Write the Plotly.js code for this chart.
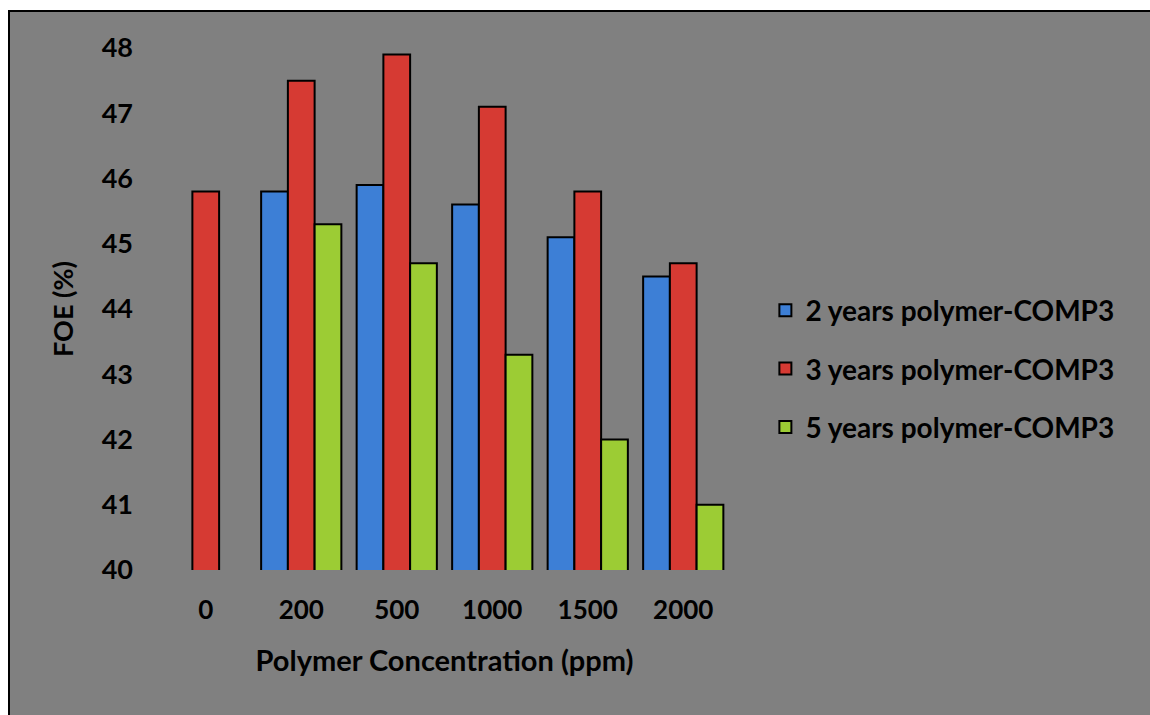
<!DOCTYPE html>
<html>
<head>
<meta charset="utf-8">
<script src="https://cdn.plot.ly/plotly-3.0.1.min.js"></script>
<style>
  html, body { margin: 0; padding: 0; background: #ffffff; width: 1150px; height: 715px; overflow: hidden; }
  #chart { position: absolute; left: 8px; top: 10px; width: 1140px; height: 703px; border: 2px solid #000; background: #808080; }
</style>
</head>
<body>
<div id="chart"></div>
<script>
const categories = ['0', '200', '500', '1000', '1500', '2000'];
const seriesNames = ['2 years polymer-COMP3', '3 years polymer-COMP3', '5 years polymer-COMP3'];
const years2 = [null, 45.8, 45.9, 45.6, 45.1, 44.5];
const years3 = [45.8, 47.5, 47.9, 47.1, 45.8, 44.7];
const years5 = [null, 45.3, 44.7, 43.3, 42.0, 41.0];
const yTicks = [40, 41, 42, 43, 44, 45, 46, 47, 48];

const colors = ['#3d7fd6', '#d63a33', '#9ccc34'];
const seriesValues = [years2, years3, years5];

const traces = seriesValues.map((vals, i) => ({
  type: 'bar',
  name: seriesNames[i],
  x: categories,
  y: vals,
  legendgroup: 'g' + i,
  marker: { color: colors[i], line: { color: '#000000', width: 2 } },
  hoverinfo: 'x+y+name'
}));

const layout = {
  width: 1140,
  height: 703,
  paper_bgcolor: '#808080',
  plot_bgcolor: '#808080',
  margin: { l: 148, r: 419, t: 36, b: 145 },
  barmode: 'group',
  bargap: 0.16,
  bargroupgap: 0,
  showlegend: true,
  font: { family: 'Lato, sans-serif', color: '#000000' },
  xaxis: {
    type: 'category',
    showgrid: false,
    zeroline: false,
    showline: false,
    ticks: '',
    ticklabelstandoff: 22,
    tickfont: { family: 'Lato, sans-serif', size: 26, weight: 'bold', color: '#000' },
    title: { text: 'Polymer Concentration (ppm)', font: { family: 'Lato, sans-serif', size: 29, weight: 'bold', color: '#000' }, standoff: 26 }
  },
  yaxis: {
    range: [40, 48],
    tickvals: yTicks,
    ticktext: yTicks.map(String),
    showgrid: false,
    zeroline: false,
    showline: false,
    ticks: '',
    ticklabelstandoff: 24,
    tickfont: { family: 'Lato, sans-serif', size: 27, weight: 'bold', color: '#000' },
    title: { text: 'FOE (%)', font: { family: 'Lato, sans-serif', size: 27, weight: 'bold', color: '#000' }, standoff: 20 }
  },
  legend: {
    x: 1.06,
    xanchor: 'left',
    y: 0.545,
    yanchor: 'top',
    bgcolor: 'rgba(0,0,0,0)',
    traceorder: 'grouped',
    tracegroupgap: 19,
    font: { family: 'Lato, sans-serif', size: 28, weight: 'bold', color: '#000' }
  }
};

Plotly.newPlot('chart', traces, layout, { displayModeBar: false, staticPlot: true });
</script>
</body>
</html>
